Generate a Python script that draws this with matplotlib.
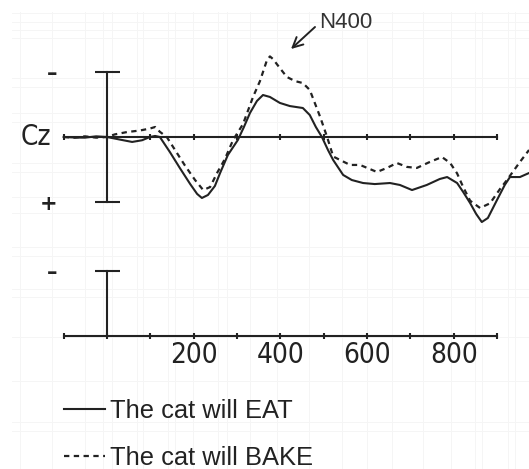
"""
ERP plot at Cz: The cat will EAT vs The cat will BAKE (N400)
"""

import matplotlib
matplotlib.use("Agg")
import matplotlib.pyplot as plt
from matplotlib.lines import Line2D
from matplotlib import font_manager

# time in ms, amplitude in microvolts (negative plotted up)
eat_t = [-100, -74, -51, -25, 0, 30, 58, 81, 99, 111, 122, 145, 168, 192, 208, 219,
         233, 249, 261, 279, 302, 316, 330, 346, 360, 376, 399, 422, 452, 468, 482,
         496, 510, 522, 545, 565, 591, 618, 653, 676, 704, 738, 768, 785, 808, 822,
         838, 852, 865, 879, 900, 918, 930, 953, 974]
eat_uv = [0, 0.04, 0.05, -0.05, 0, 0.2, 0.38, 0.25, 0.0, -0.08, 0, 1.15, 2.38, 3.62,
          4.38, 4.69, 4.46, 3.77, 2.77, 1.38, 0.23, -0.77, -1.85, -2.77, -3.23, -3.08,
          -2.62, -2.38, -2.23, -1.69, -0.77, 0, 1.0, 1.77, 2.92, 3.31, 3.54, 3.62, 3.54,
          3.69, 4.08, 3.69, 3.23, 3.08, 3.54, 4.23, 5.08, 5.92, 6.54, 6.23, 4.85, 3.69,
          3.08, 3.08, 2.77]

bake_t = [-100, -74, -51, -25, 0, 18, 46, 76, 99, 111, 122, 138, 157, 180, 203, 222,
          238, 254, 272, 291, 314, 337, 353, 369, 376, 383, 399, 415, 434, 452, 468,
          492, 508, 522, 538, 561, 584, 623, 646, 669, 692, 715, 745, 773, 792, 808,
          822, 838, 861, 884, 907, 923, 953, 974]
bake_uv = [0, 0.05, -0.05, 0.05, 0, -0.2, -0.38, -0.5, -0.65, -0.77, -0.4, 0, 1.0, 2.2,
           3.3, 4.08, 3.85, 2.77, 1.7, 0.23, -1.0, -3.08, -4.3, -5.9, -6.2, -6.0, -5.3,
           -4.62, -4.3, -4.15, -3.62, -1.54, 0, 1.5, 1.77, 2.15, 2.15, 2.69, 2.38, 2.0,
           2.3, 2.38, 1.92, 1.54, 2.0, 2.8, 3.85, 4.9, 5.46, 5.1, 4.0, 3.31, 1.92, 1.0]

time_ticks = list(range(-100, 901, 100))
time_labels = [200, 400, 600, 800]
scale_uv = 5

# layout (pixels of the 529x469 picture)
W, H = 529, 469
PX_MS = 0.4333   # px per ms
PX_UV = 13.0     # px per microvolt
X0, Y0 = 107, 137   # t=0 / baseline of the Cz trace
Y_LOW = 336         # baseline of the lower time axis
INK = "#222222"
sans = ["Liberation Sans", "DejaVu Sans"]
narrow = font_manager.FontProperties(family="DejaVu Sans", stretch="condensed")

fig = plt.figure(figsize=(W / 100, H / 100), dpi=100)
fig.patch.set_facecolor("white")

# faint background grid of the scanned figure
grid_x = [20, 52, 85, 103, 112, 137, 143, 168, 175, 193, 218, 227, 250, 277, 309,
          342, 367, 392, 423, 451, 475, 482, 508, 515]
grid_y = [13, 22, 30, 38, 78, 87, 113, 122, 163, 172, 197, 213, 247, 256, 289, 297,
          337, 381, 422, 431]
for gx in grid_x:
    fig.add_artist(Line2D([gx / W, gx / W], [0, 1 - 12 / H], color="#f5f5f5",
                          lw=0.7, zorder=-5, transform=fig.transFigure))
for gy in grid_y:
    fig.add_artist(Line2D([12 / W, 1], [1 - gy / H, 1 - gy / H], color="#f5f5f5",
                          lw=0.7, zorder=-5, transform=fig.transFigure))

xlim = (-X0 / PX_MS, (W - X0) / PX_MS)

# ---- upper panel: Cz traces
ax = fig.add_axes([0, 0, 1, 1])
ax.set_facecolor("none")
ax.set_xlim(*xlim)
ax.set_ylim((H - Y0) / PX_UV, -Y0 / PX_UV)

ax.plot(eat_t, eat_uv, color=INK, lw=1.5, label="The cat will EAT", zorder=3,
        solid_joinstyle="round")
ax.plot(bake_t, bake_uv, color=INK, lw=1.6, ls=(0, (2.4, 2.0)),
        label="The cat will BAKE", zorder=3)

for s in ["top", "right"]:
    ax.spines[s].set_visible(False)
ax.spines["bottom"].set_position(("data", 0))
ax.spines["bottom"].set_bounds(-100, 900)
ax.spines["left"].set_position(("data", 0))
ax.spines["left"].set_bounds(-scale_uv, scale_uv)
for s in ["bottom", "left"]:
    ax.spines[s].set_color(INK)
    ax.spines[s].set_linewidth(1.5)
ax.set_xticks(time_ticks)
ax.tick_params(axis="x", direction="inout", length=5, width=1.5, color=INK,
               labelbottom=False)
ax.set_yticks([-scale_uv, scale_uv])
ax.set_yticklabels(["\u2013", "+"])
ax.tick_params(axis="y", direction="inout", length=18, width=1.5, color=INK,
               pad=27, labelsize=15, labelcolor=INK)
for lab in ax.get_yticklabels():
    lab.set_fontweight("bold")

ax.text(-164, 0, "Cz", fontproperties=narrow, fontsize=20, color=INK,
        ha="center", va="center")

# N400 arrow
ax.annotate("", xy=((291 - X0) / PX_MS, (49 - Y0) / PX_UV),
            xytext=((315 - X0) / PX_MS, (27 - Y0) / PX_UV),
            arrowprops=dict(arrowstyle="->", lw=1.4, color=INK, mutation_scale=18,
                            shrinkA=0, shrinkB=0))
ax.text((319 - X0) / PX_MS, (22 - Y0) / PX_UV, "N400", fontsize=16, family=sans,
        color="#333333", ha="left", va="center")

ax.legend(loc="upper left", bbox_to_anchor=(64 / W, 1 - 399 / H), frameon=False,
          prop=dict(family=sans, size=18.4), handlelength=1.6, handletextpad=0.2,
          borderpad=0, borderaxespad=0, labelspacing=0.9, labelcolor=INK)

# ---- lower panel: time axis with scale bar
ax2 = fig.add_axes([0, 0, 1, 1])
ax2.set_facecolor("none")
ax2.set_xlim(*xlim)
ax2.set_ylim((H - Y_LOW) / PX_UV, -Y_LOW / PX_UV)
for s in ["top", "right"]:
    ax2.spines[s].set_visible(False)
ax2.spines["bottom"].set_position(("data", 0))
ax2.spines["bottom"].set_bounds(-100, 900)
ax2.spines["left"].set_position(("data", 0))
ax2.spines["left"].set_bounds(-scale_uv, 0)
for s in ["bottom", "left"]:
    ax2.spines[s].set_color(INK)
    ax2.spines[s].set_linewidth(1.5)
ax2.set_xticks(time_ticks)
ax2.set_xticklabels([str(t) if t in time_labels else "" for t in time_ticks])
ax2.tick_params(axis="x", direction="inout", length=5, width=1.5, color=INK,
                pad=1, labelcolor=INK)
for lab in ax2.get_xticklabels():
    lab.set_fontproperties(narrow)
    lab.set_fontsize(20)
ax2.set_yticks([-scale_uv])
ax2.set_yticklabels(["\u2013"])
ax2.tick_params(axis="y", direction="inout", length=18, width=1.5, color=INK,
                pad=27, labelsize=15, labelcolor=INK)
for lab in ax2.get_yticklabels():
    lab.set_fontweight("bold")

fig.savefig("out.png", dpi=100)
